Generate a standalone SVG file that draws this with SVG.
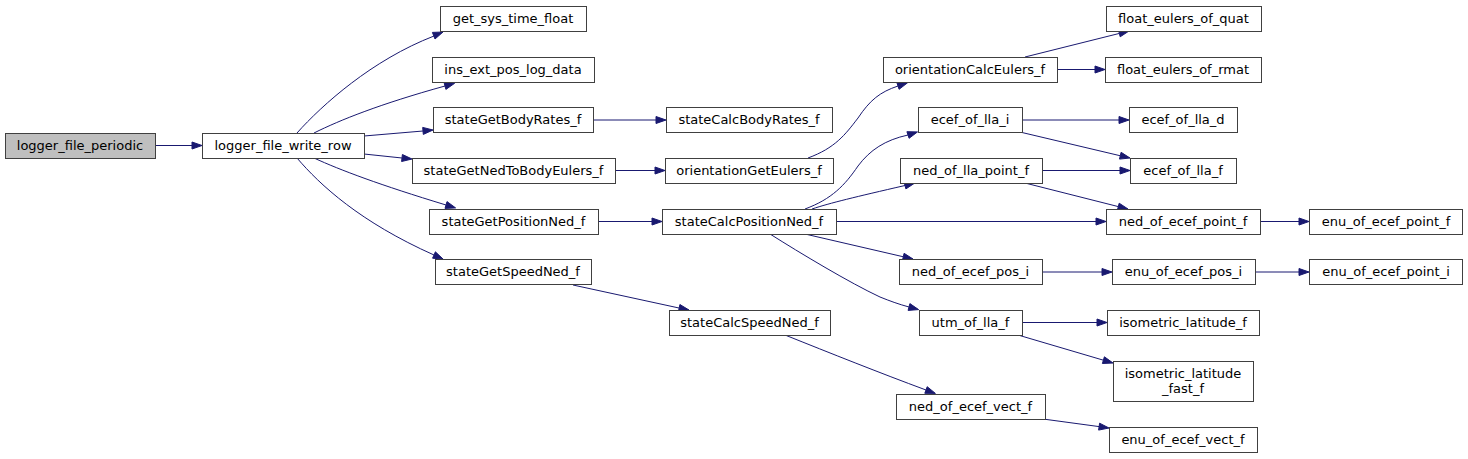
<svg xmlns="http://www.w3.org/2000/svg" width="1468" height="459" viewBox="0 0 1468 459">
<style>
.node rect{fill:#ffffff;stroke:#404040;stroke-width:1}
.root rect{fill:#bfbfbf}
text{font-family:"DejaVu Sans","Liberation Sans",sans-serif;font-size:13px;text-anchor:middle;fill:#000000}
.edges path{fill:none;stroke:#191970;stroke-width:1}
.edges polygon{fill:#191970;stroke:#191970;stroke-width:1}
</style>
<rect x="0" y="0" width="1468" height="459" fill="#ffffff"/>
<g class="edges">
<path d="M155,145.5 L192,145.5"/><polygon points="192,142 202,145.5 192,149"/>
<path d="M297,133 C322,105 372,60 434,36"/><polygon points="435,39 443,32 432.4,32.4"/>
<path d="M314,133 C340,120 380,104 445,86"/><polygon points="445.9,89.4 454.6,83.3 444.1,82.6"/>
<path d="M364,136 L423,131"/><polygon points="423.3,134.4 433,130 422.7,127.4"/>
<path d="M364,154 L402,158"/><polygon points="401.6,161.5 412,159 402.4,154.5"/>
<path d="M314,158 C340,170 380,185 446,205"/><polygon points="445,208.4 455.6,207.9 447,201.6"/>
<path d="M297,158 C320,185 360,222 434,255"/><polygon points="432.6,258.2 443.1,259.1 435.4,251.8"/>
<path d="M593,120 L656,120"/><polygon points="656,116.5 666,120 656,123.5"/>
<path d="M615,170.5 L655,170.5"/><polygon points="655,167 665,170.5 655,174"/>
<path d="M598,221.5 L652,221.5"/><polygon points="652,218 662,221.5 652,225"/>
<path d="M573,285 L679,308"/><polygon points="678.5,311.3 689,310 679.9,304.5"/>
<path d="M808,158 C835,148 845,135 858,118 C870,100 880,92 898,86"/><polygon points="899.1,89.3 907.5,82.8 896.9,82.7"/>
<path d="M1025,57 L1119,33.5"/><polygon points="1120.2,36.8 1129,31 1118.5,30"/>
<path d="M1057,69.5 L1095,69.5"/><polygon points="1095,66 1105,69.5 1095,73"/>
<path d="M805,209 C832,199 845,185 858,166 C870,150 885,140 908,135"/><polygon points="909.1,138.3 917.5,131.9 906.9,131.7"/>
<path d="M812,209 C830,203 855,197 905,185.5"/><polygon points="905.9,188.9 914.7,183.1 904.1,182.1"/>
<path d="M836,221.5 L1096,221.5"/><polygon points="1096,218 1106,221.5 1096,225"/>
<path d="M805,234 L903,256.7"/><polygon points="902.5,260.1 913,259 904.1,253.3"/>
<path d="M770,234 C800,253 850,283 880,297 C890,301 898,304 909,307"/><polygon points="908.1,310.4 918.6,309.6 909.9,303.6"/>
<path d="M785,335 C830,353 880,373 926,390"/><polygon points="924.8,393.3 935.4,393.4 927.2,386.7"/>
<path d="M1022,120 L1119,120"/><polygon points="1119,116.5 1129,120 1119,123.5"/>
<path d="M1022,132.5 L1120,155.7"/><polygon points="1119.5,159.1 1130,158 1121.1,152.3"/>
<path d="M1042,170.5 L1120,170.5"/><polygon points="1120,167 1130,170.5 1120,174"/>
<path d="M1025,183 L1118.3,206.6"/><polygon points="1117.4,210 1128,209 1119.2,203.2"/>
<path d="M1260,221.5 L1299,221.5"/><polygon points="1299,218 1309,221.5 1299,225"/>
<path d="M1042,272 L1102,272"/><polygon points="1102,268.5 1112,272 1102,275.5"/>
<path d="M1255,272 L1299,272"/><polygon points="1299,268.5 1309,272 1299,275.5"/>
<path d="M1022,322.5 L1097,322.5"/><polygon points="1097,319 1107,322.5 1097,326"/>
<path d="M1018,335 L1103.4,360.2"/><polygon points="1102.4,363.5 1113,363 1104.4,356.8"/>
<path d="M1043,419 L1099.1,426.6"/><polygon points="1098.6,430.1 1109,428 1099.6,423.2"/>
</g>
<g id="logger_file_periodic" class="node root"><rect x="5.5" y="133.5" width="150" height="25"/><text x="80" y="149.5">logger_file_periodic</text></g>
<g id="logger_file_write_row" class="node"><rect x="202.5" y="133.5" width="162" height="25"/><text x="283" y="149.5">logger_file_write_row</text></g>
<g id="get_sys_time_float" class="node"><rect x="440.5" y="6.5" width="146" height="25"/><text x="513" y="22.5">get_sys_time_float</text></g>
<g id="ins_ext_pos_log_data" class="node"><rect x="432.5" y="57.5" width="162" height="25"/><text x="513" y="73.5">ins_ext_pos_log_data</text></g>
<g id="stateGetBodyRates_f" class="node"><rect x="433.5" y="107.5" width="160" height="25"/><text x="513" y="123.5">stateGetBodyRates_f</text></g>
<g id="stateGetNedToBodyEulers_f" class="node"><rect x="412.5" y="158.5" width="203" height="25"/><text x="513.5" y="174.5">stateGetNedToBodyEulers_f</text></g>
<g id="stateGetPositionNed_f" class="node"><rect x="429.5" y="209.5" width="169" height="25"/><text x="513.5" y="225.5">stateGetPositionNed_f</text></g>
<g id="stateGetSpeedNed_f" class="node"><rect x="435.5" y="259.5" width="156" height="25"/><text x="513" y="275.5">stateGetSpeedNed_f</text></g>
<g id="stateCalcBodyRates_f" class="node"><rect x="666.5" y="107.5" width="166" height="25"/><text x="749" y="123.5">stateCalcBodyRates_f</text></g>
<g id="orientationGetEulers_f" class="node"><rect x="665.5" y="158.5" width="168" height="25"/><text x="749" y="174.5">orientationGetEulers_f</text></g>
<g id="stateCalcPositionNed_f" class="node"><rect x="662.5" y="209.5" width="174" height="25"/><text x="749" y="225.5">stateCalcPositionNed_f</text></g>
<g id="stateCalcSpeedNed_f" class="node"><rect x="669.5" y="310.5" width="161" height="25"/><text x="749.5" y="326.5">stateCalcSpeedNed_f</text></g>
<g id="orientationCalcEulers_f" class="node"><rect x="883.5" y="57.5" width="174" height="25"/><text x="970" y="73.5">orientationCalcEulers_f</text></g>
<g id="ecef_of_lla_i" class="node"><rect x="918.5" y="107.5" width="104" height="25"/><text x="970" y="123.5">ecef_of_lla_i</text></g>
<g id="ned_of_lla_point_f" class="node"><rect x="900.5" y="158.5" width="142" height="25"/><text x="971" y="174.5">ned_of_lla_point_f</text></g>
<g id="ned_of_ecef_pos_i" class="node"><rect x="899.5" y="259.5" width="143" height="25"/><text x="970.5" y="275.5">ned_of_ecef_pos_i</text></g>
<g id="utm_of_lla_f" class="node"><rect x="919.5" y="310.5" width="103" height="25"/><text x="970.5" y="326.5">utm_of_lla_f</text></g>
<g id="ned_of_ecef_vect_f" class="node"><rect x="896.5" y="394.5" width="149" height="25"/><text x="970.5" y="410.5">ned_of_ecef_vect_f</text></g>
<g id="float_eulers_of_quat" class="node"><rect x="1106.5" y="6.5" width="155" height="25"/><text x="1183.5" y="22.5">float_eulers_of_quat</text></g>
<g id="float_eulers_of_rmat" class="node"><rect x="1105.5" y="57.5" width="156" height="25"/><text x="1183" y="73.5">float_eulers_of_rmat</text></g>
<g id="ecef_of_lla_d" class="node"><rect x="1129.5" y="107.5" width="108" height="25"/><text x="1183" y="123.5">ecef_of_lla_d</text></g>
<g id="ecef_of_lla_f" class="node"><rect x="1130.5" y="158.5" width="106" height="25"/><text x="1183" y="174.5">ecef_of_lla_f</text></g>
<g id="ned_of_ecef_point_f" class="node"><rect x="1106.5" y="209.5" width="154" height="25"/><text x="1183" y="225.5">ned_of_ecef_point_f</text></g>
<g id="enu_of_ecef_pos_i" class="node"><rect x="1112.5" y="259.5" width="143" height="25"/><text x="1183.5" y="275.5">enu_of_ecef_pos_i</text></g>
<g id="isometric_latitude_f" class="node"><rect x="1107.5" y="310.5" width="152" height="25"/><text x="1183" y="326.5">isometric_latitude_f</text></g>
<g id="isometric_latitude_fast_f" class="node"><rect x="1113.5" y="361.5" width="140" height="40"/><text x="1183" y="377.5">isometric_latitude</text><text x="1183" y="392.5">_fast_f</text></g>
<g id="enu_of_ecef_vect_f" class="node"><rect x="1109.5" y="427.5" width="148" height="25"/><text x="1183" y="443.5">enu_of_ecef_vect_f</text></g>
<g id="enu_of_ecef_point_f" class="node"><rect x="1309.5" y="209.5" width="153" height="25"/><text x="1386" y="225.5">enu_of_ecef_point_f</text></g>
<g id="enu_of_ecef_point_i" class="node"><rect x="1309.5" y="259.5" width="153" height="25"/><text x="1386" y="275.5">enu_of_ecef_point_i</text></g>
</svg>
